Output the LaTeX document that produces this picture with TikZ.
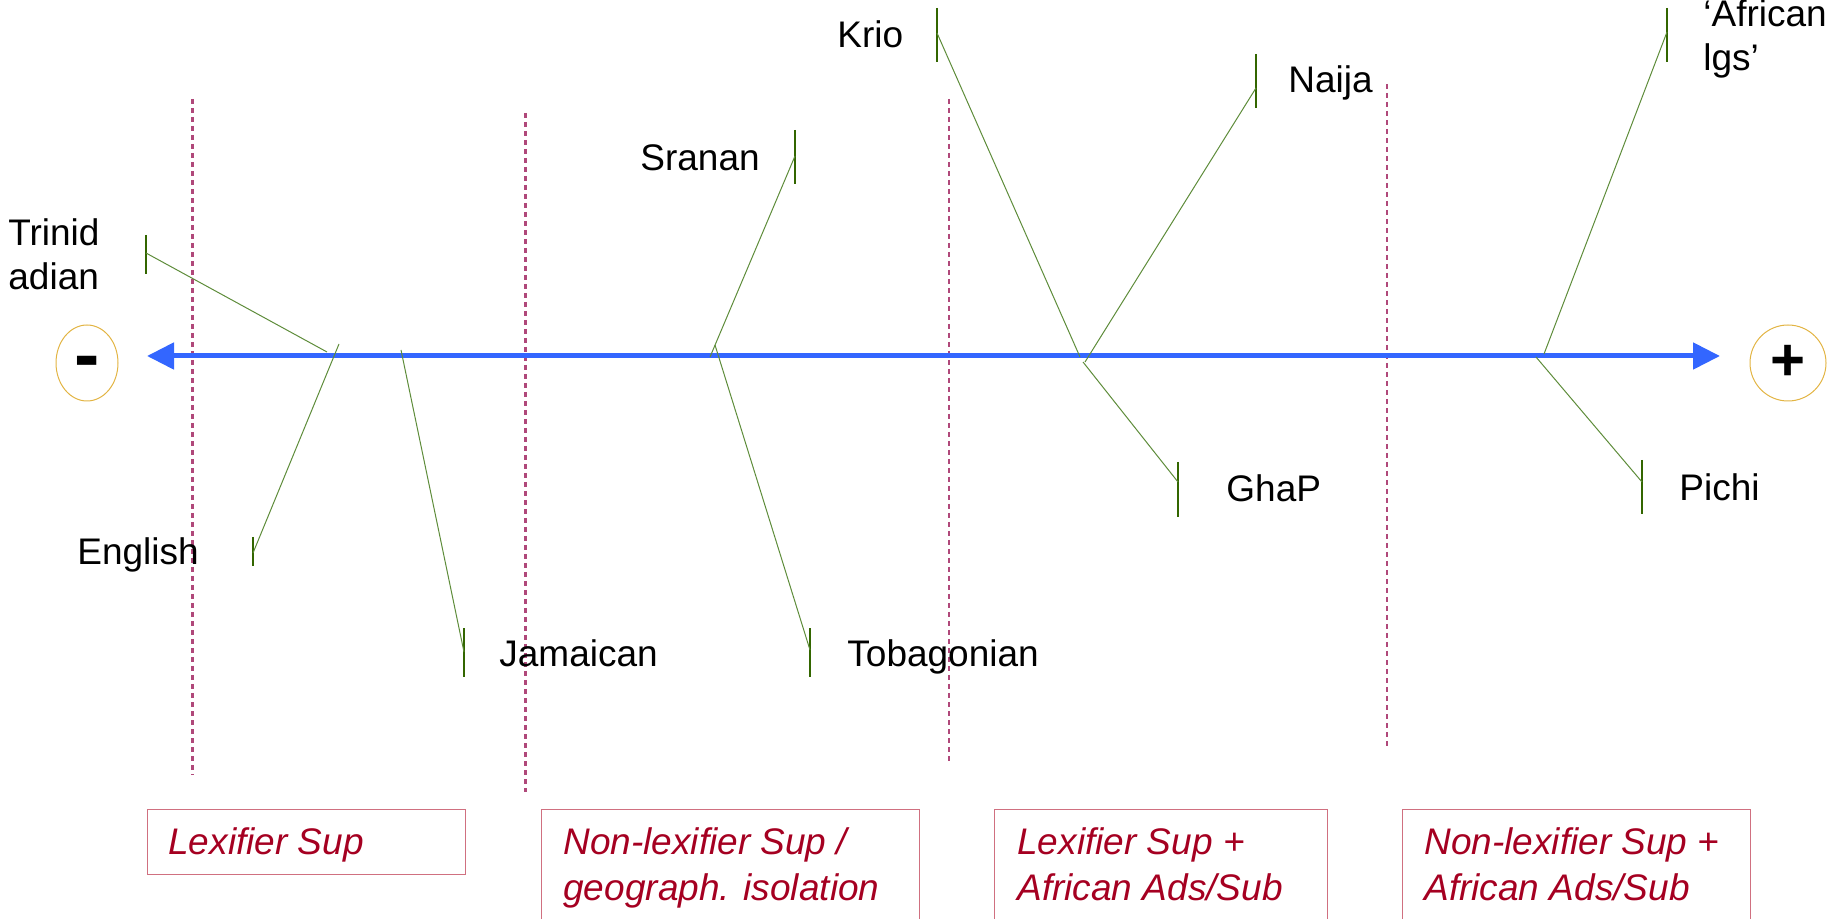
\documentclass[tikz,border=0pt]{standalone}
\usepackage{fontspec}
\setmainfont{Liberation Sans}
\usetikzlibrary{arrows.meta,shapes.geometric}
\definecolor{gline}{HTML}{5E8C3A}
\definecolor{gtick}{HTML}{336600}
\definecolor{dcol}{HTML}{B0487A}
\definecolor{bcol}{HTML}{D07080}
\definecolor{tcol}{HTML}{A50021}
\definecolor{ecol}{HTML}{E2B443}
\definecolor{acol}{HTML}{3366FF}
\tikzset{
 lbl/.style={anchor=base west, inner sep=0pt, font=\fontsize{18.5}{22}\selectfont},
 boxtxt/.style={anchor=base west, inner sep=0pt, text=tcol, font=\fontsize{18.5}{23}\selectfont\itshape},
 catbox/.style={draw=bcol, line width=0.6pt, anchor=north west, inner sep=0pt},
 branch/.style={draw=gline, line width=0.5pt},
 tickst/.style={draw=gtick, line width=0.7pt},
 divider/.style={draw=dcol, line width=1.1pt, dash pattern=on 2.5pt off 2pt},
 pole/.style={ellipse, draw=ecol, line width=0.5pt, inner sep=0pt},
 axisst/.style={draw=acol, line width=2.5pt, {Triangle[length=13.5pt,width=13pt]}-{Triangle[length=13.5pt,width=13pt]}},
}
\begin{document}
\begin{tikzpicture}[x=0.5pt,y=-0.5pt]
\clip (0,0) rectangle (1827,919);
% dividers
\coordinate (d1a) at (192.5,99);  \coordinate (d1b) at (192.5,775);
\coordinate (d2a) at (525.5,113); \coordinate (d2b) at (525.5,792);
\coordinate (d3a) at (948.7,99);  \coordinate (d3b) at (948.7,763);
\coordinate (d4a) at (1386.6,84); \coordinate (d4b) at (1386.6,748);
\draw[divider] (d1a) -- (d1b);
\draw[divider] (d2a) -- (d2b);
\draw[divider] (d3a) -- (d3b);
\draw[divider] (d4a) -- (d4b);
% poles
\node[pole, minimum width=31pt, minimum height=38pt, text height=18pt, text depth=0pt, font=\fontsize{38}{38}\selectfont\bfseries] (minus) at (87,363) {-};
\node[pole, minimum width=38pt, minimum height=38pt, font=\fontsize{30}{30}\selectfont\bfseries] (plus) at (1788,363) {+};
% axis
\coordinate (aL) at (147,356);
\coordinate (aR) at (1720,356);
\draw[axisst] (aL) -- (aR);
% labels
\node[lbl] (trin) at (8,246) {\vtop{\hbox{Trinid}\hbox{adian}}};
\node[lbl] (eng) at (77,565) {English};
\node[lbl] (jam) at (499,667) {Jamaican};
\node[lbl] (sra) at (640,171) {Sranan};
\node[lbl] (tob) at (847,667) {Tobagonian};
\node[lbl] (kri) at (837,48) {Krio};
\node[lbl] (nai) at (1288,93) {Naija};
\node[lbl] (gha) at (1226,502) {GhaP};
\node[lbl] (pic) at (1679,501) {Pichi};
\node[lbl] (afr) at (1703,27) {\vtop{\hbox{‘African}\hbox{lgs’}}};
% ticks: top, bottom, joint
\foreach \n/\x/\a/\b/\m in {T/146/235/274/253, E/253/537/566/553, J/464/628/677/652, S/795/130/184/156, B/810/628/677/650, K/937/8/62/33, N/1256/54/108/88, G/1178/462/517/482, A/1667/8/62/32, P/1642/460/514/482}{
  \coordinate (t\n a) at (\x,\a);
  \coordinate (t\n b) at (\x,\b);
  \coordinate (t\n m) at (\x,\m);
  \draw[tickst] (t\n a) -- (t\n b);
}
% junctions on axis
\coordinate (jT) at (327,352);
\coordinate (jE) at (339,344);
\coordinate (jJ) at (401,350);
\coordinate (jS) at (710,357);
\coordinate (jB) at (715,345);
\coordinate (jK) at (1080,357);
\coordinate (jN) at (1085,362);
\coordinate (jG) at (1083,362);
\coordinate (jA) at (1544,354);
\coordinate (jP) at (1536,357);
\draw[branch] (tTm) -- (jT);
\draw[branch] (jE) -- (tEm);
\draw[branch] (jJ) -- (tJm);
\draw[branch] (tSm) -- (jS);
\draw[branch] (jB) -- (tBm);
\draw[branch] (tKm) -- (jK);
\draw[branch] (tNm) -- (jN);
\draw[branch] (jG) -- (tGm);
\draw[branch] (tAm) -- (jA);
\draw[branch] (jP) -- (tPm);
% category boxes
\node[catbox, minimum width=159pt, minimum height=32.5pt] (b1) at (147,809) {};
\node[catbox, minimum width=189pt, minimum height=65.5pt] (b2) at (541,809) {};
\node[catbox, minimum width=166.5pt, minimum height=65.5pt] (b3) at (994,809) {};
\node[catbox, minimum width=174pt, minimum height=65.5pt] (b4) at (1402,809) {};
\node[boxtxt] (c1) at (168,854) {Lexifier Sup};
\node[boxtxt] (c2) at (563,854) {\vtop{\hbox{Non-lexifier Sup /}\hbox{geograph. isolation}}};
\node[boxtxt] (c3) at (1017,854) {\vtop{\hbox{Lexifier Sup +}\hbox{African Ads/Sub}}};
\node[boxtxt] (c4) at (1424,854) {\vtop{\hbox{Non-lexifier Sup +}\hbox{African Ads/Sub}}};
\end{tikzpicture}
\end{document}
